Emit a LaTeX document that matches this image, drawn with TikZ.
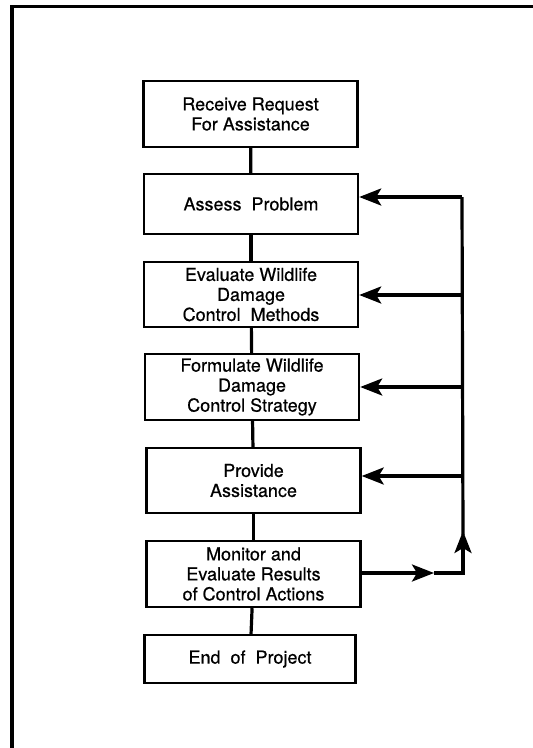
\documentclass[tikz,border=0pt]{standalone}
\usepackage{fontspec}
\setmainfont{TeX Gyre Heros}
\newfontfamily\boxfont[FakeBold=0.5]{TeX Gyre Heros}
\usetikzlibrary{arrows.meta}
\begin{document}
\begin{tikzpicture}[x=1pt,y=-1pt,
  stepbox/.style={draw,line width=2.4pt,minimum width=214pt,inner sep=0pt,align=center,font=\boxfont\fontsize{18}{20}\selectfont},
  link/.style={line width=3.2pt},
  tip/.style={-{Stealth[length=22pt,width=17pt,inset=5pt]},line width=3.2pt}]
\useasboundingbox (0,0) rectangle (533,748);
\fill[white] (0,0) rectangle (533,748);
\draw[line width=3.8pt] (533,6.5) -- (12,6.5) -- (12,748);
\node[stepbox,minimum height=66pt] (b1) at (250.5,114) {Receive Request\\For Assistance};
\node[stepbox,minimum height=60pt] (b2) at (251,204) {Assess\ \ Problem};
\node[stepbox,minimum height=65pt] (b3) at (251,294.5) {Evaluate Wildlife\\Damage\\Control\ \ Methods};
\node[stepbox,minimum height=66pt] (b4) at (252,387) {Formulate Wildlife\\Damage\\Control Strategy};
\node[stepbox,minimum height=65pt] (b5) at (253.5,480.5) {Provide\\Assistance};
\node[stepbox,minimum height=66pt] (b6) at (253.5,574) {Monitor and\\Evaluate Results\\of Control Actions};
\node[stepbox,minimum height=48pt,minimum width=211pt] (b7) at (250,659) {End\ \ of\ \ Project};
\draw[link] (b1) -- (b2);
\draw[link] (b2) -- (b3);
\draw[link] (b3) -- (b4);
\draw[link] (b4) -- (b5);
\draw[link] (b5) -- (b6);
\draw[link] (b6) -- (b7);
\coordinate (r6) at (463,573);
\coordinate (rm) at (463,555);
\coordinate (r2) at (462,197);
\coordinate (r3) at (462,295);
\coordinate (r4) at (462,387);
\coordinate (r5) at (462,476);
\coordinate (m6) at (434,573);
\draw[tip] (b6.east |- r6) -- (m6);
\draw[link] (m6) -- (r6) -- (rm);
\draw[tip] (r6) -- (463,531);
\draw[link] (463,535) -- (r2);
\draw[tip] (r2) -- (b2.east |- r2);
\draw[tip] (r3) -- (b3.east |- r3);
\draw[tip] (r4) -- (b4.east |- r4);
\draw[tip] (r5) -- (b5.east |- r5);
\end{tikzpicture}
\end{document}
